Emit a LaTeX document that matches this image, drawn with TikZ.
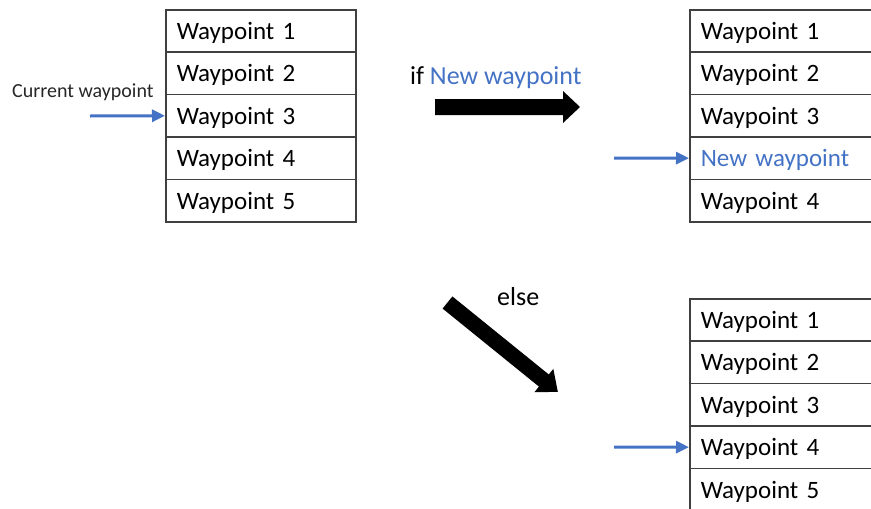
\documentclass[tikz,border=0pt]{standalone}
\usepackage{fontspec}
\setmainfont{Carlito}
\usetikzlibrary{arrows.meta}
\definecolor{ptblue}{HTML}{4472C4}
\definecolor{gridgray}{HTML}{404040}
\definecolor{labelgray}{HTML}{262626}
\tikzset{
  cell/.style={draw=gridgray, line width=1.5pt, rectangle, anchor=north west,
    minimum height=42.4pt, inner xsep=11pt, inner ysep=0pt, align=left,
    text height=17pt, text depth=0pt, font=\fontsize{25}{30}\selectfont},
  narrowcell/.style={cell, minimum width=190pt, text width=168pt},
  widecell/.style={cell, minimum width=220pt, text width=198pt},
  pointer/.style={draw=ptblue, line width=3pt, -{Triangle[length=13pt,width=12pt]}},
  bigtext/.style={anchor=base west, inner sep=0pt, font=\fontsize{26}{31}\selectfont},
  bigarrow/.style={fill=black}
}
\begin{document}
\begin{tikzpicture}[x=1pt, y=-1pt]
\useasboundingbox (0,0) rectangle (871,509);
\clip (0,0) rectangle (871,509);

% original list
\node[narrowcell] (a1) at (165,9) {Waypoint 1};
\node[narrowcell] (a2) at (165,51.4) {Waypoint 2};
\node[narrowcell] (a3) at (165,93.8) {Waypoint 3};
\node[narrowcell] (a4) at (165,136.2) {Waypoint 4};
\node[narrowcell] (a5) at (165,178.6) {Waypoint 5};

\node[anchor=base west, inner sep=0pt, text=labelgray, font=\fontsize{20}{24}\selectfont] (curlabel) at (12,97) {Current waypoint};
\coordinate (acur) at (90,116);
\draw[pointer] (acur) -- (a3.west);

% list after inserting the new waypoint
\node[widecell] (b1) at (689,9) {Waypoint 1};
\node[widecell] (b2) at (689,51.4) {Waypoint 2};
\node[widecell] (b3) at (689,93.8) {Waypoint 3};
\node[widecell, text=ptblue] (b4) at (689,136.2) {New waypoint};
\node[widecell] (b5) at (689,178.6) {Waypoint 4};
\coordinate (bcur) at (614,158);
\draw[pointer] (bcur) -- (b4.west);

% list after advancing the pointer
\node[widecell] (c1) at (689,298) {Waypoint 1};
\node[widecell] (c2) at (689,340.4) {Waypoint 2};
\node[widecell] (c3) at (689,382.8) {Waypoint 3};
\node[widecell] (c4) at (689,425.2) {Waypoint 4};
\node[widecell] (c5) at (689,467.6) {Waypoint 5};
\coordinate (ccur) at (614,447);
\draw[pointer] (ccur) -- (c4.west);

% branch labels
\node[bigtext] (iflabel) at (410,84) {if \textcolor{ptblue}{New waypoint}};
\node[bigtext] (elselabel) at (497,305) {else};

% block arrows
\fill[bigarrow] (435,99) -- (563,99) -- (563,91) -- (580,107) -- (563,123) -- (563,115) -- (435,115) -- cycle;
\fill[bigarrow, shift={(447.5,302.5)}, rotate=-39]
  (0,-7.8) -- (124,-7.8) -- (124,-15) -- (142,0) -- (124,15) -- (124,7.8) -- (0,7.8) -- cycle;
\end{tikzpicture}
\end{document}
